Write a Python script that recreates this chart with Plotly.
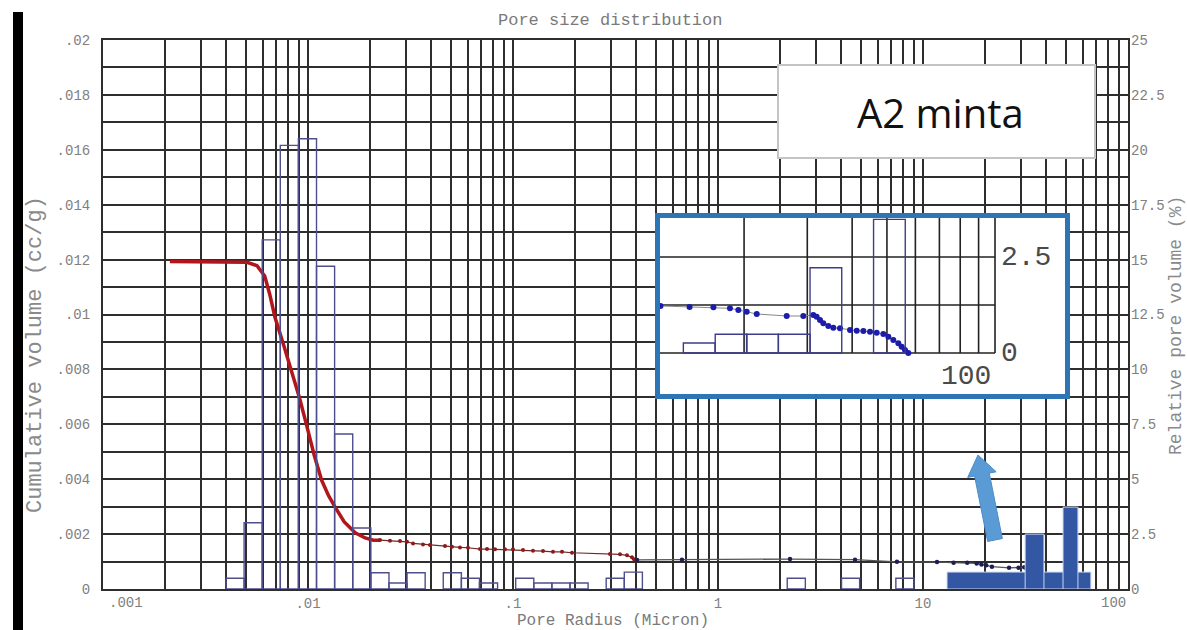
import numpy as np
import plotly.graph_objects as go

# ---------------- data ----------------
# Cumulative intrusion curve: pore radius (micron) vs cumulative volume (cc/g)
fine_radius = [0.00212, 0.00300, 0.00420, 0.00504, 0.00564, 0.00615, 0.00650, 0.00690,
               0.00760, 0.00832, 0.00910, 0.00985, 0.01070, 0.01166, 0.01260, 0.01354,
               0.01500, 0.01700, 0.01900, 0.02083, 0.02245]
fine_volume = [0.01193, 0.01193, 0.01193, 0.01190, 0.01178, 0.01140, 0.01075, 0.00990,
               0.00890, 0.00796, 0.00695, 0.00596, 0.00490, 0.00396, 0.00340, 0.00299,
               0.00245, 0.00205, 0.00186, 0.00178, 0.00178]

mid_radius = [0.02245, 0.02512, 0.02811, 0.03040, 0.03253, 0.03639, 0.03936, 0.04659,
              0.05039, 0.05513, 0.06032, 0.06902, 0.07468, 0.08171, 0.09141, 0.1000,
              0.1119, 0.1252, 0.1401, 0.1567, 0.1734, 0.1940, 0.2972, 0.3327, 0.3598,
              0.3805, 0.3892, 0.4025]
mid_volume = [0.001782, 0.001756, 0.001745, 0.001720, 0.001662, 0.001625, 0.001600, 0.001564,
              0.001538, 0.001516, 0.001502, 0.001455, 0.001455, 0.001444, 0.001444, 0.001444,
              0.001418, 0.001393, 0.001382, 0.001356, 0.001356, 0.001320, 0.001273, 0.001262,
              0.001225, 0.001153, 0.001080, 0.001060]

coarse_radius = [0.4025, 0.667, 2.245, 4.66, 7.46, 11.7, 14.1, 16.43, 18.27, 19.28, 20.34,
                 21.69, 26.29, 29.24, 31.18, 31.86, 32.55, 33.25, 34.33, 35.45, 37.0, 39.46,
                 41.19, 42.98, 44.86, 46.82, 48.86, 50.45, 52.09, 53.79, 54.95, 56.14, 57.35]
coarse_volume = [0.001060, 0.001070, 0.001090, 0.001070, 0.000990, 0.000980, 0.000960, 0.000952,
                 0.000931, 0.000896, 0.000861, 0.000813, 0.000771, 0.000771, 0.000792, 0.000756,
                 0.000688, 0.000618, 0.000563, 0.000527, 0.000514, 0.000479, 0.000465, 0.000458,
                 0.000444, 0.000423, 0.000396, 0.000340, 0.000271, 0.000202, 0.000132, 0.000063,
                 0.0]

# Relative pore volume histogram: bin centre (micron) and share of total volume (%)
bin_centre = [0.00441, 0.00540, 0.00662, 0.00811, 0.00994, 0.01218, 0.01493, 0.01830,
              0.02243, 0.02748, 0.03368, 0.05058, 0.06198, 0.07597, 0.1141, 0.1398,
              0.1713, 0.2100, 0.3153, 0.3864, 2.409, 4.434, 8.16]
bin_pct = [0.49, 3.02, 15.9, 20.2, 20.5, 14.7, 7.06, 2.78,
           0.74, 0.27, 0.74, 0.74, 0.49, 0.27, 0.49, 0.27,
           0.27, 0.27, 0.49, 0.77, 0.49, 0.49, 0.49]
BIN_WIDTH_DEC = 0.0883  # bin width in decades of radius

# Highlighted coarse-pore bins: lower edge, upper edge (micron), share (%)
hl_lo = [13.1, 31.5, 48.2]
hl_hi = [65.9, 38.9, 57.0]
hl_pct = [0.77, 2.5, 3.73]

# Magnified coarse range
inset_bin_centre = [15.0, 18.4, 22.5, 27.6, 33.8, 50.8]
inset_bin_pct = [0.26, 0.49, 0.49, 0.49, 2.22, 3.48]

# Axis tick labels
x_decades = [0.001, 0.01, 0.1, 1, 10, 100]
x_decade_text = [".001", ".01", ".1", "1", "10", "100"]
y_left_text = ["0", ".002", ".004", ".006", ".008", ".01", ".012", ".014", ".016", ".018", ".02"]
y_right_vals = [0, 2.5, 5, 7.5, 10, 12.5, 15, 17.5, 20, 22.5, 25]
y_right_text = ["0", "2.5", "5", "7.5", "10", "12.5", "15", "17.5", "20", "22.5", "25"]

PCT_PER_CCG = 25 / 0.02   # right axis (%) per left axis (cc/g)

# ---------------- geometry ----------------
W, H = 1187, 630
ML, MR, MT, MB = 103, 59, 40, 41
PW, PH = W - ML - MR, H - MT - MB


def pxp(x):
    return (x - ML) / PW


def pyp(y):
    return (H - MB - y) / PH


MONO = "Liberation Mono"
GRID = "#2e2e2e"
LABEL = "#808080"

fig = go.Figure()

# cumulative curve
fig.add_trace(go.Scatter(x=fine_radius, y=fine_volume, mode="lines",
                         line=dict(color="#b0161c", width=3.5), hoverinfo="skip"))
fig.add_trace(go.Scatter(x=mid_radius, y=mid_volume, mode="lines+markers",
                         line=dict(color="#6e2a2a", width=1.2),
                         marker=dict(color="#8e1a1a", size=4), hoverinfo="skip"))
fig.add_trace(go.Scatter(x=coarse_radius, y=coarse_volume, mode="lines+markers",
                         line=dict(color="#555555", width=1.3),
                         marker=dict(color="#1e1e55", size=4.5), hoverinfo="skip"))

# histogram (hollow bars)
fig.add_trace(go.Bar(x=np.log10(bin_centre), y=bin_pct, width=BIN_WIDTH_DEC,
                     xaxis="x2", yaxis="y2",
                     marker=dict(color="rgba(0,0,0,0)", line=dict(color="#4e4e8e", width=1.4)),
                     hoverinfo="skip"))

# highlighted coarse bins (filled)
lo, hi = np.log10(hl_lo), np.log10(hl_hi)
fig.add_trace(go.Bar(x=(lo + hi) / 2, y=hl_pct, width=hi - lo,
                     xaxis="x2", yaxis="y2",
                     marker=dict(color="#3457a4", line=dict(color="#c8d4ee", width=1)),
                     hoverinfo="skip"))

# magnified view
all_r = np.array(fine_radius + mid_radius[1:] + coarse_radius[1:])
all_v = np.array(fine_volume + mid_volume[1:] + coarse_volume[1:])
sel = all_r >= 11
fig.add_trace(go.Scatter(x=all_r[sel], y=all_v[sel] * PCT_PER_CCG, mode="lines+markers",
                         xaxis="x3", yaxis="y3",
                         line=dict(color="#888888", width=1),
                         marker=dict(color="#1c1caa", size=6), hoverinfo="skip"))
fig.add_trace(go.Bar(x=np.log10(inset_bin_centre), y=inset_bin_pct, width=BIN_WIDTH_DEC,
                     xaxis="x4", yaxis="y3",
                     marker=dict(color="rgba(0,0,0,0)", line=dict(color="#3c3c8c", width=1.4)),
                     hoverinfo="skip"))

# ---------------- axes ----------------
x_grid = [m * d for d in [0.001, 0.01, 0.1, 1, 10] for m in range(1, 10)] + [100]
x_text = [x_decade_text[x_decades.index(v)] if v in x_decades and v not in (0.001, 100) else ""
          for v in x_grid]
y_grid = [i * 0.001 for i in range(21)]
y_text = [y_left_text[i // 2] if i % 2 == 0 else "" for i in range(21)]

tickfont = dict(family=MONO, size=14, color=LABEL)

fig.update_layout(
    width=W, height=H,
    margin=dict(l=ML, r=MR, t=MT, b=MB),
    plot_bgcolor="white", paper_bgcolor="white",
    showlegend=False, barmode="overlay",
    xaxis=dict(type="log", range=[-3, 2], tickmode="array", tickvals=x_grid, ticktext=x_text,
               showgrid=True, gridcolor=GRID, gridwidth=1.5, showline=True, mirror=True,
               linecolor=GRID, linewidth=2, ticks="", tickfont=tickfont, zeroline=False,
               ticklabelstandoff=0),
    yaxis=dict(range=[0, 0.02], tickmode="array", tickvals=y_grid, ticktext=y_text,
               showgrid=True, gridcolor=GRID, gridwidth=1.5, showline=True, mirror=True,
               linecolor=GRID, linewidth=2, ticks="", tickfont=tickfont, zeroline=False,
               ticklabelstandoff=8),
    xaxis2=dict(overlaying="x", range=[-3, 2], visible=False, anchor="y2"),
    yaxis2=dict(overlaying="y", side="right", anchor="x2", range=[0, 25], tickmode="array",
                tickvals=y_right_vals, ticktext=y_right_text, showgrid=False, zeroline=False,
                ticks="", tickfont=tickfont, showline=False, ticklabelstandoff=2),
    xaxis3=dict(type="log", domain=[pxp(657.5), pxp(1067.5)], range=[1.0599, 2.2019],
                anchor="y3", visible=False),
    yaxis3=dict(domain=[pyp(396.5), pyp(215.5)], range=[-1.133, 3.581],
                anchor="x3", visible=False),
    xaxis4=dict(overlaying="x3", range=[1.0599, 2.2019], anchor="y3", visible=False),
)

shapes = []
# inset background and its own grid
shapes.append(dict(type="rect", xref="x3", yref="y3", x0=1, x1=1000, y0=-10, y1=10,
                   fillcolor="white", line=dict(width=0), layer="below"))
for v in [20, 30, 40, 50, 60, 70, 80, 90, 100]:
    shapes.append(dict(type="line", xref="x3", yref="y3", x0=v, x1=v, y0=0, y1=10,
                       line=dict(color="#222222", width=1.6), layer="below"))
for h in [0, 1.25, 2.5]:
    shapes.append(dict(type="line", xref="x3", yref="y3", x0=1, x1=100, y0=h, y1=h,
                       line=dict(color="#222222", width=1.6), layer="below"))
# inset frame
shapes.append(dict(type="rect", xref="x3 domain", yref="y3 domain", x0=0, x1=1, y0=0, y1=1,
                   line=dict(color="#2e75b6", width=5), fillcolor="rgba(0,0,0,0)", layer="above"))
# sample label box
shapes.append(dict(type="rect", xref="paper", yref="paper", x0=pxp(778), x1=pxp(1095),
                   y0=pyp(158), y1=pyp(65), fillcolor="white",
                   line=dict(color="#c4c4c4", width=2), layer="above"))
# black bar at the left edge
shapes.append(dict(type="rect", xref="paper", yref="paper", x0=pxp(13), x1=pxp(23),
                   y0=pyp(660), y1=pyp(12), fillcolor="black", line=dict(width=0), layer="above"))

# pointer arrow towards the magnified view
tip = np.array([978.0, 455.0])
tail = np.array([995.0, 540.0])
u = (tip - tail) / np.linalg.norm(tip - tail)
n = np.array([-u[1], u[0]])
hb = tip - 20 * u
pts = [tip, hb + 14.5 * n, hb + 7.5 * n, tail + 7.5 * n, tail - 7.5 * n, hb - 7.5 * n, hb - 14.5 * n]
path = "M " + " L ".join(f"{pxp(p[0]):.5f},{pyp(p[1]):.5f}" for p in pts) + " Z"
shapes.append(dict(type="path", xref="paper", yref="paper", path=path,
                   fillcolor="#5b9bd5", line=dict(color="#4a8ccb", width=1), layer="above"))

fig.update_layout(shapes=shapes)


def label(text, x, y, font, **kw):
    d = dict(text=text, xref="paper", yref="paper", x=pxp(x), y=pyp(y),
             xanchor="center", yanchor="middle", showarrow=False, font=font)
    d.update(kw)
    return d


ann = []
# titles
ann.append(label("Pore size distribution", 610, 20, dict(family=MONO, size=17, color="#7a7a7a")))
ann.append(label("Pore Radius (Micron)", 613, 621, dict(family=MONO, size=16, color="#7a7a7a")))
ann.append(label("Cumulative volume (cc/g)", 35, 355, dict(family=MONO, size=22, color="#8a8a8a"),
                 textangle=-90))
ann.append(label("Relative pore volume (%)", 1176, 326, dict(family=MONO, size=18, color="#8a8a8a"),
                 textangle=-90))
# end labels of the radius axis
ann.append(label(".001", 126, 603, tickfont))
ann.append(label("100", 1113, 603, tickfont))
# sample name
ann.append(label("A2 minta", 940, 113, dict(family="Open Sans", size=40, color="#111111")))
# magnified view labels
inset_font = dict(family=MONO, size=28, color="#4a4a4a")
ann.append(dict(text="2.5", xref="x3", yref="y3", x=2, y=2.5, xanchor="left", yanchor="middle",
                xshift=4, showarrow=False, font=inset_font))
ann.append(dict(text="0", xref="x3", yref="y3", x=2, y=0, xanchor="left", yanchor="middle",
                xshift=4, showarrow=False, font=inset_font))
ann.append(dict(text="100", xref="x3", yref="y3", x=2, y=-0.62, xanchor="right", yanchor="middle",
                xshift=-2, showarrow=False, font=inset_font))
fig.update_layout(annotations=ann)

fig.write_html("out.html")
